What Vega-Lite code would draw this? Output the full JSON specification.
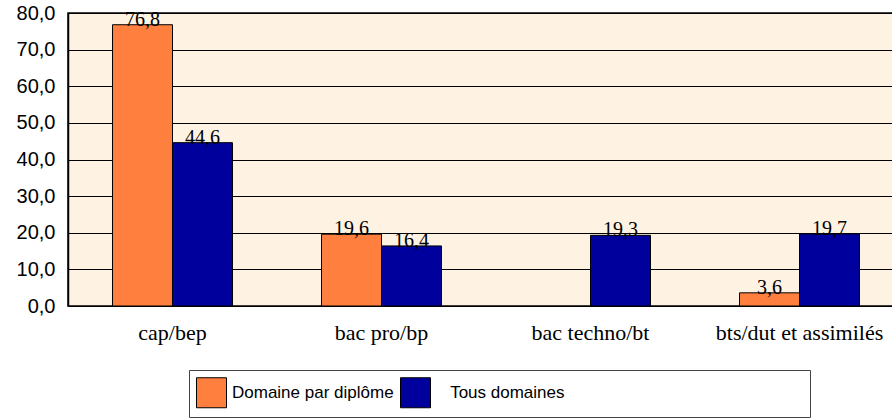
{
  "$schema": "https://vega.github.io/schema/vega-lite/v6.json",
  "width": 826,
  "height": 293,
  "autosize": {"type": "none"},
  "padding": {"left": 68, "top": 13, "right": 0, "bottom": 113},
  "background": "white",
  "config": {
    "locale": {"number": {"decimal": ",", "thousands": " ", "grouping": [3], "currency": ["", " €"]}},
    "view": {"fill": "#FEF3E2", "stroke": "black", "strokeWidth": 1.5},
    "axis": {"domainColor": "black", "tickColor": "black"}
  },
  "data": {
    "values": [
      {"diplome": "cap/bep", "serie": "Domaine par diplôme", "valeur": 76.8},
      {"diplome": "cap/bep", "serie": "Tous domaines", "valeur": 44.6},
      {"diplome": "bac pro/bp", "serie": "Domaine par diplôme", "valeur": 19.6},
      {"diplome": "bac pro/bp", "serie": "Tous domaines", "valeur": 16.4},
      {"diplome": "bac techno/bt", "serie": "Tous domaines", "valeur": 19.3},
      {"diplome": "bts/dut et assimilés", "serie": "Domaine par diplôme", "valeur": 3.6},
      {"diplome": "bts/dut et assimilés", "serie": "Tous domaines", "valeur": 19.7}
    ]
  },
  "encoding": {
    "x": {
      "field": "diplome",
      "type": "nominal",
      "sort": ["cap/bep", "bac pro/bp", "bac techno/bt", "bts/dut et assimilés"],
      "scale": {"paddingInner": 0.426, "paddingOuter": 0.213, "range": [0, 836]},
      "axis": {
        "title": null,
        "labelAngle": 0,
        "labelFont": "Liberation Serif",
        "labelFontSize": 22,
        "labelColor": "black",
        "labelPadding": 16,
        "ticks": false,
        "domain": false,
        "labelLimit": 300
      }
    },
    "xOffset": {
      "field": "serie",
      "type": "nominal",
      "scale": {"domain": ["Domaine par diplôme", "Tous domaines"], "paddingInner": 0, "paddingOuter": 0}
    },
    "y": {
      "field": "valeur",
      "type": "quantitative",
      "scale": {"domain": [0, 80], "nice": false},
      "axis": {
        "title": null,
        "values": [0, 10, 20, 30, 40, 50, 60, 70, 80],
        "format": ".1f",
        "labelFont": "Liberation Sans",
        "labelFontSize": 20,
        "labelColor": "black",
        "labelPadding": 13,
        "tickSize": 0,
        "grid": true,
        "gridColor": "black",
        "gridWidth": 1,
        "gridOpacity": 1,
        "domainColor": "black",
        "domainWidth": 1.5
      }
    }
  },
  "layer": [
    {
      "mark": {"type": "bar", "stroke": "black", "strokeWidth": 1},
      "encoding": {
        "color": {
          "field": "serie",
          "type": "nominal",
          "scale": {"domain": ["Domaine par diplôme", "Tous domaines"], "range": ["#FF7F3F", "#00009C"]},
          "legend": {
            "title": null,
            "orient": "none",
            "legendX": 121,
            "legendY": 357,
            "direction": "horizontal",
            "symbolType": "square",
            "symbolSize": 900,
            "symbolStrokeColor": "black",
            "symbolStrokeWidth": 1,
            "symbolOpacity": 1,
            "labelFont": "Liberation Sans",
            "labelFontSize": 17,
            "labelColor": "black",
            "labelLimit": 800,
            "labelOffset": 5,
            "columnPadding": 4,
            "padding": 7,
            "fillColor": "white",
            "strokeColor": "#444444",
            "labelExpr": "datum.value == 'Tous domaines' ? '\u200b\u2002\u2004Tous domaines\u2003\u2003\u2003\u2003\u2003\u2003\u2003\u2003\u2003\u2003\u2003\u2003\u2003\u2003\u200b' : datum.value"
          }
        }
      }
    },
    {
      "mark": {"type": "text", "baseline": "alphabetic", "dy": 1, "font": "Liberation Serif", "fontSize": 20, "color": "black"},
      "encoding": {
        "text": {"field": "valeur", "type": "quantitative", "format": ".1f"}
      }
    }
  ]
}
